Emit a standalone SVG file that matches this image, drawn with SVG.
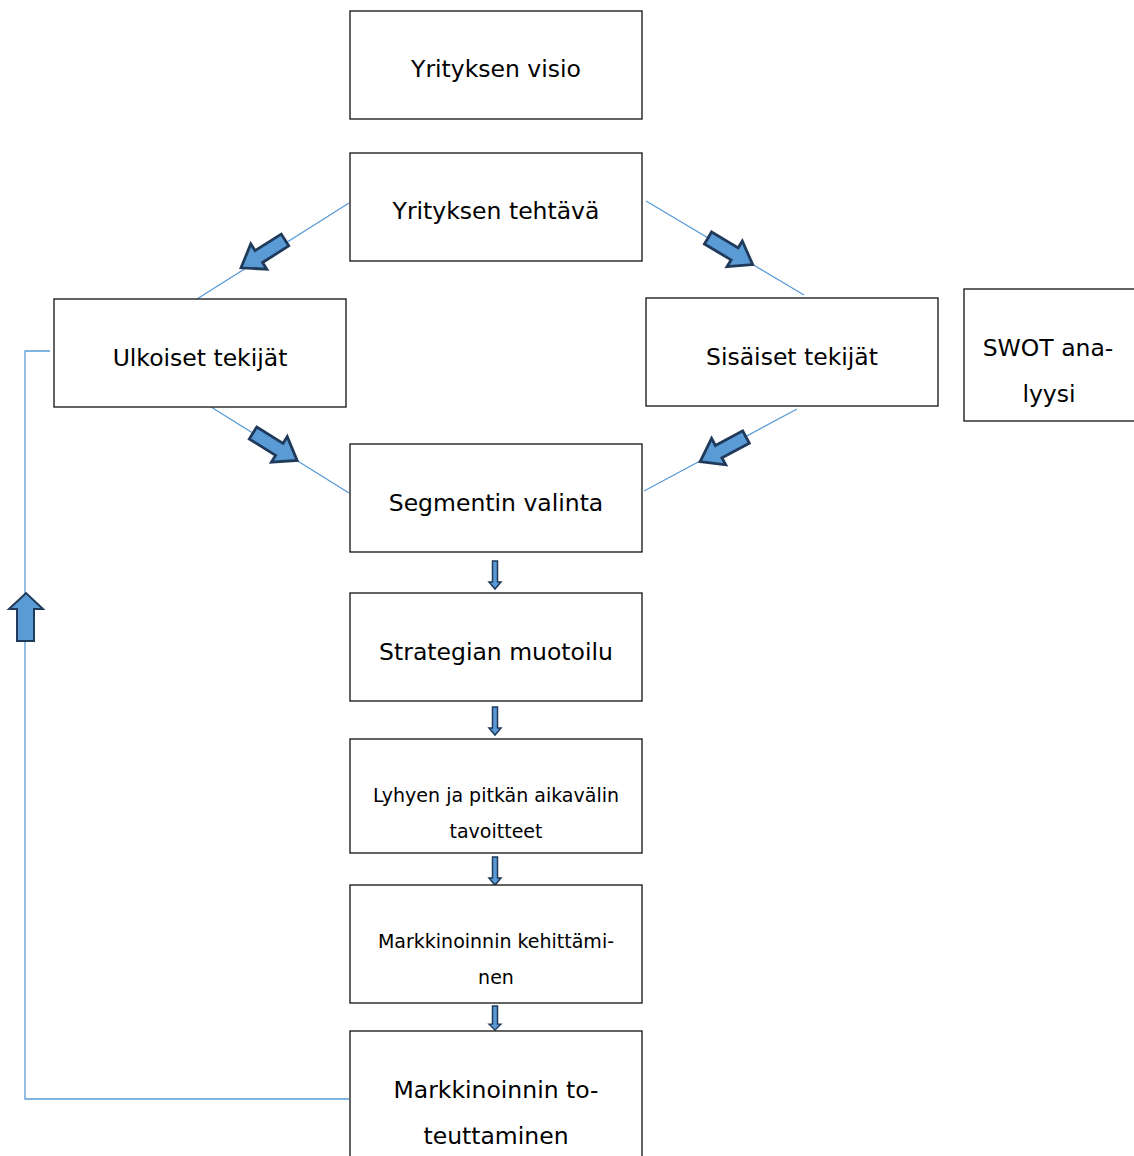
<svg xmlns="http://www.w3.org/2000/svg" width="1134" height="1156" viewBox="0 0 1134 1156">
<style>
.box{fill:#fff;stroke:#111;stroke-width:1.3}
.t{font-family:"DejaVu Sans",Verdana,sans-serif;font-size:23.5px;fill:#000;text-anchor:middle}
.s{font-size:19px}
.ln{fill:none;stroke:#5B9BD5;stroke-width:1.3}
.ba{fill:#5B9BD5;stroke:#1F3A5A;stroke-width:2.8;stroke-linejoin:miter}
.sa{fill:#5B9BD5;stroke:#1F3A5A;stroke-width:1.5}
</style>
<defs>
<path id="big" d="M0,-7 L31,-7 L31,-15 L52,0 L31,15 L31,7 L0,7 Z"/>
<path id="down" d="M-2.5,0 L2.5,0 L2.5,21 L6,21 L0,28 L-6,21 L-2.5,21 Z"/>
</defs>
<rect width="1134" height="1156" fill="#fff"/>
<g id="connectors">
<line class="ln" x1="349" y1="203" x2="197" y2="299"/>
<line class="ln" x1="646" y1="201" x2="804" y2="295"/>
<line class="ln" x1="211" y1="407" x2="349" y2="493"/>
<line class="ln" x1="797" y1="409" x2="644" y2="491"/>
<polyline class="ln" points="349,1099 25,1099 25,351 50,351"/>
<use href="#big" class="ba" transform="translate(285,240) rotate(147.7)"/>
<use href="#big" class="ba" transform="translate(708,238) rotate(30.75)"/>
<use href="#big" class="ba" transform="translate(253,433) rotate(31.9)"/>
<use href="#big" class="ba" transform="translate(746,437) rotate(151.8)"/>
<use href="#down" class="sa" transform="translate(495,561)"/>
<use href="#down" class="sa" transform="translate(495,707)"/>
<use href="#down" class="sa" transform="translate(495,857)"/>
<use href="#down" class="sa" transform="translate(495,1006) scale(1,0.86)"/>
<path class="ba" d="M17,641 L17,609 L9,609 L26,593 L43,609 L34,609 L34,641 Z" style="stroke-width:2"/>
</g>
<g id="n1"><rect class="box" x="350" y="11" width="292" height="108"/><text class="t" x="496" y="77">Yrityksen visio</text></g>
<g id="n2"><rect class="box" x="350" y="153" width="292" height="108"/><text class="t" x="496" y="219">Yrityksen tehtävä</text></g>
<g id="n3"><rect class="box" x="54" y="299" width="292" height="108"/><text class="t" x="200" y="366">Ulkoiset tekijät</text></g>
<g id="n4"><rect class="box" x="646" y="298" width="292" height="108"/><text class="t" x="792" y="365">Sisäiset tekijät</text></g>
<g id="n5"><rect class="box" x="964" y="289" width="180" height="132"/><text class="t" x="1048" y="356">SWOT ana-</text><text class="t" x="1049" y="402">lyysi</text></g>
<g id="n6"><rect class="box" x="350" y="444" width="292" height="108"/><text class="t" x="496" y="511">Segmentin valinta</text></g>
<g id="n7"><rect class="box" x="350" y="593" width="292" height="108"/><text class="t" x="496" y="660">Strategian muotoilu</text></g>
<g id="n8"><rect class="box" x="350" y="739" width="292" height="114"/><text class="t s" x="496" y="802">Lyhyen ja pitkän aikavälin</text><text class="t s" x="496" y="838">tavoitteet</text></g>
<g id="n9"><rect class="box" x="350" y="885" width="292" height="118"/><text class="t s" x="496" y="948">Markkinoinnin kehittämi-</text><text class="t s" x="496" y="984">nen</text></g>
<g id="n10"><rect class="box" x="350" y="1031" width="292" height="140"/><text class="t" x="496" y="1098">Markkinoinnin to-</text><text class="t" x="496" y="1144">teuttaminen</text></g>
</svg>
